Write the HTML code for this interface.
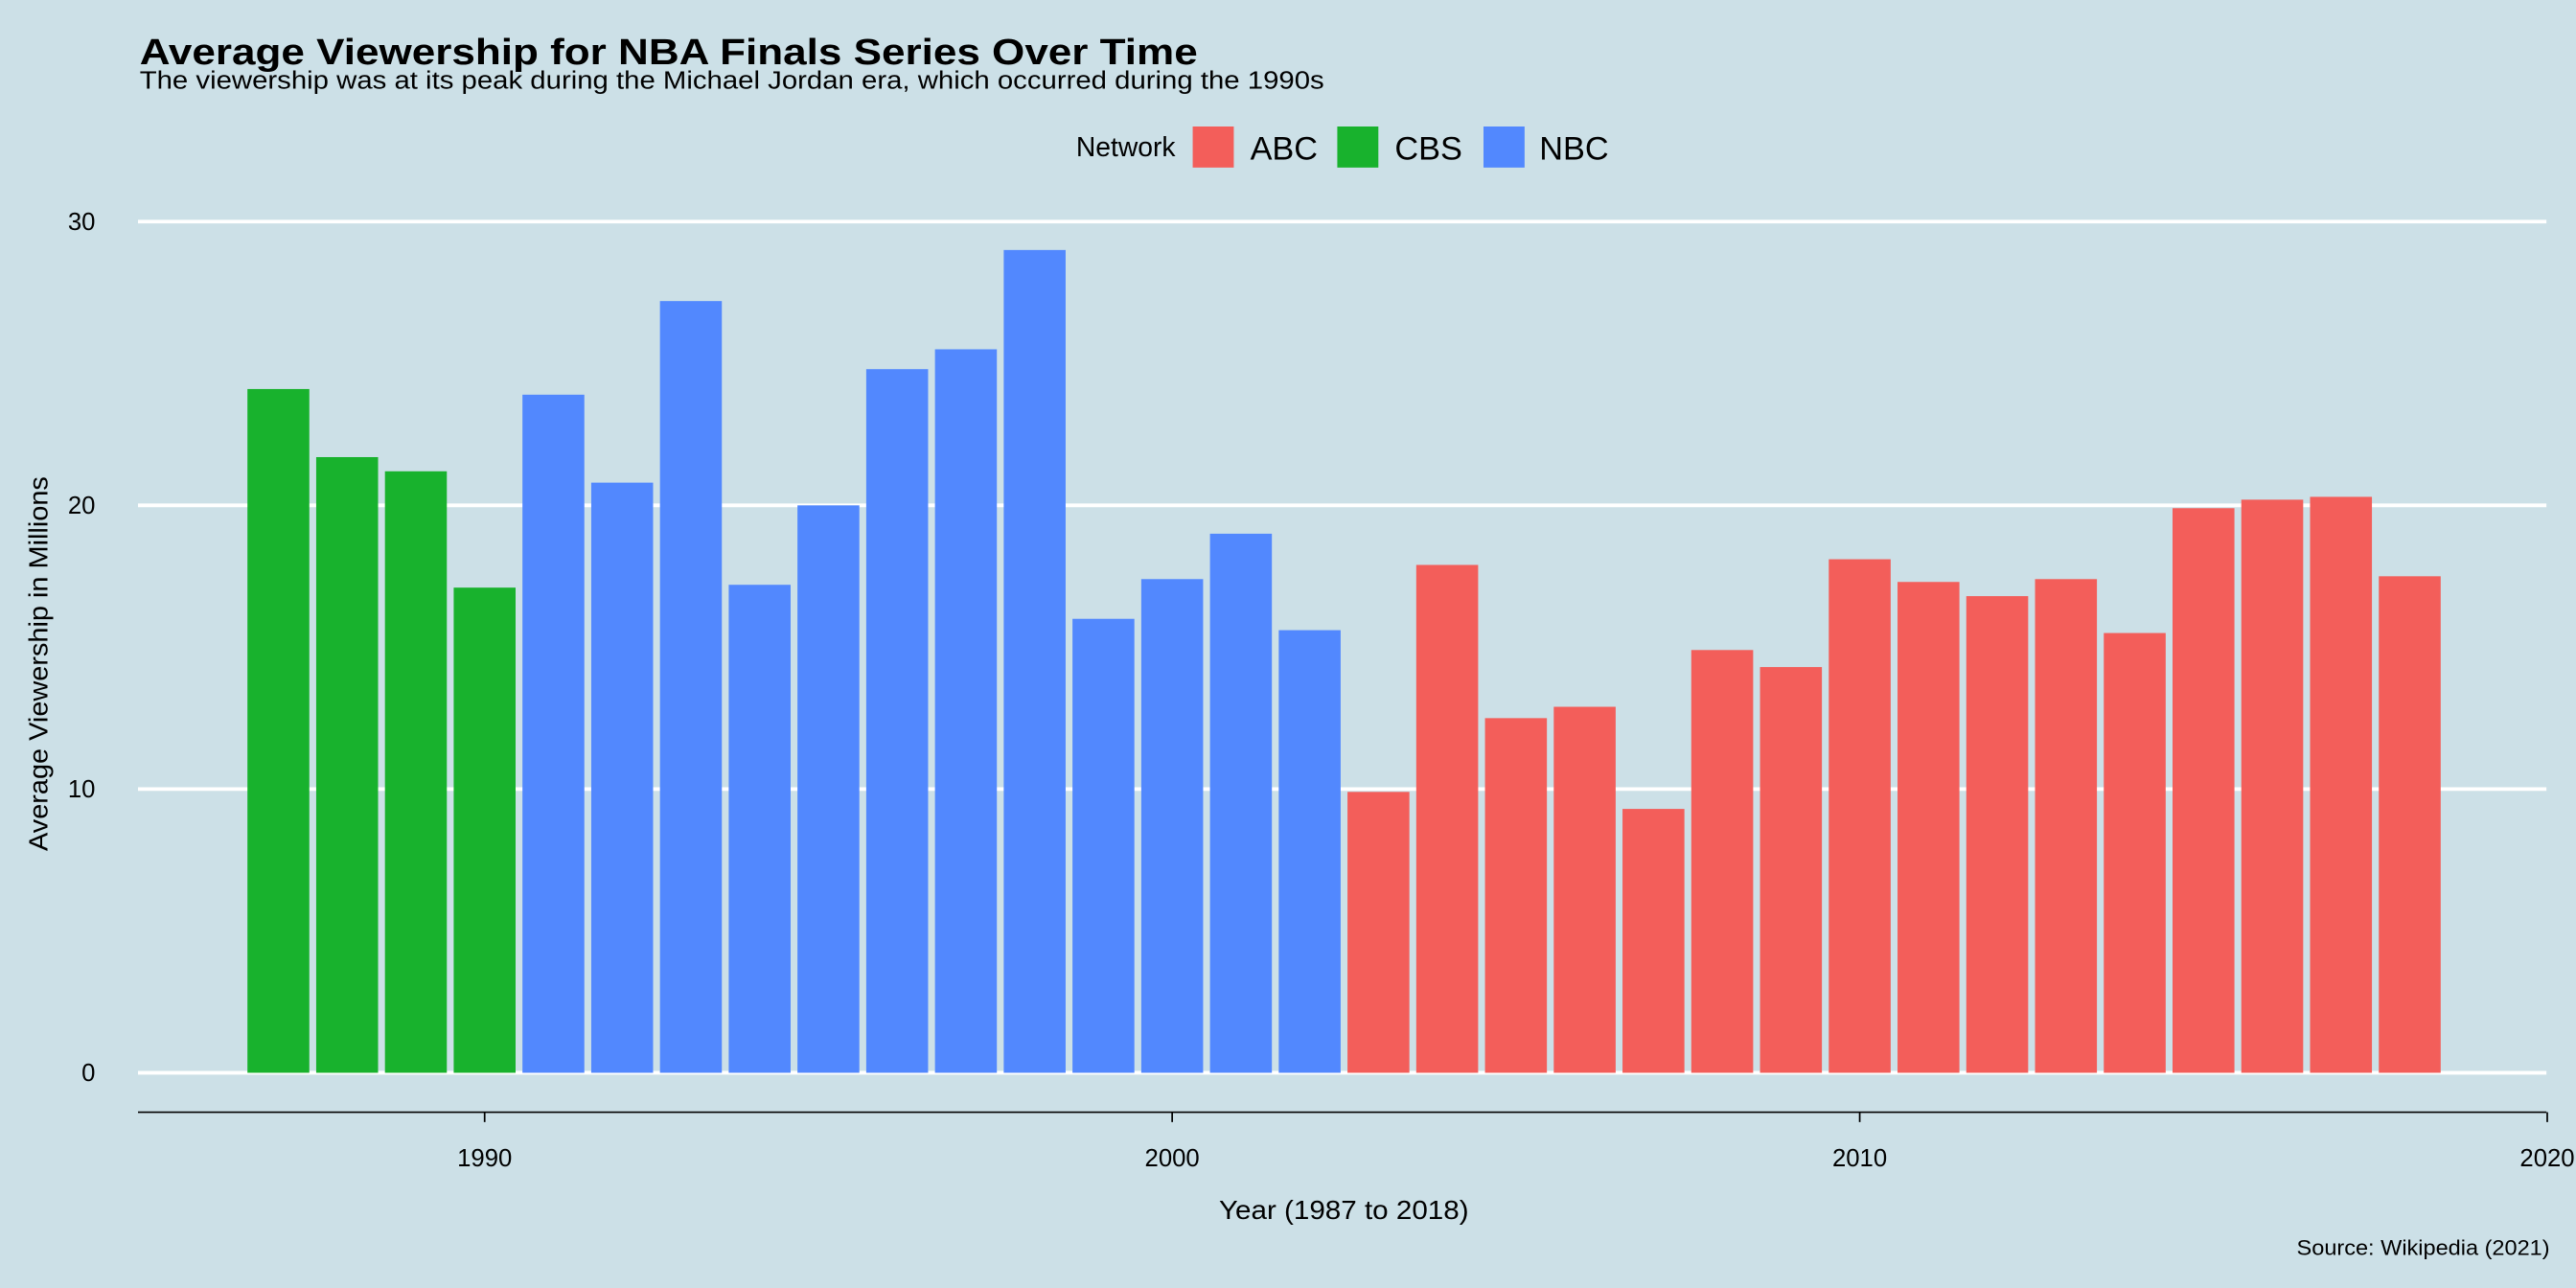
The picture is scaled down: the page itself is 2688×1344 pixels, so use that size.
<!DOCTYPE html>
<html><head><meta charset="utf-8"><style>
html,body{margin:0;padding:0;background:#cce0e7;}
svg{display:block;font-family:"Liberation Sans",Arial,sans-serif;}
</style></head><body>
<svg id="chart" width="2688" height="1344" viewBox="0 0 1568 784" xmlns="http://www.w3.org/2000/svg">
<rect x="0" y="0" width="1568" height="784" fill="#cce0e7"/>
<text x="85" y="39" font-size="22" font-weight="bold" fill="#000" textLength="644" lengthAdjust="spacingAndGlyphs">Average Viewership for NBA Finals Series Over Time</text>
<text x="85" y="54" font-size="15" fill="#000" textLength="721" lengthAdjust="spacingAndGlyphs">The viewership was at its peak during the Michael Jordan era, which occurred during the 1990s</text>
<g>
<text x="655" y="95" font-size="16.5">Network</text>
<rect x="726" y="77" width="25" height="25" fill="#f35e5a"/>
<text x="761" y="97" font-size="20">ABC</text>
<rect x="814" y="77" width="25" height="25" fill="#18b22d"/>
<text x="849" y="97" font-size="20">CBS</text>
<rect x="903" y="77" width="25" height="25" fill="#5288fe"/>
<text x="937" y="97" font-size="20">NBC</text>
</g>
<g id="grid"></g>
<g id="bars"></g>
<g id="axes"></g>
<text transform="translate(29,404) rotate(-90)" text-anchor="middle" font-size="16" textLength="228" lengthAdjust="spacingAndGlyphs">Average Viewership in Millions</text>
<text x="818" y="742" text-anchor="middle" font-size="16" textLength="152" lengthAdjust="spacingAndGlyphs">Year (1987 to 2018)</text>
<text x="1552" y="764" text-anchor="end" font-size="13" textLength="154" lengthAdjust="spacingAndGlyphs">Source: Wikipedia (2021)</text>
</svg>
<script>
const years = [1987,1988,1989,1990,1991,1992,1993,1994,1995,1996,1997,1998,1999,2000,2001,2002,2003,2004,2005,2006,2007,2008,2009,2010,2011,2012,2013,2014,2015,2016,2017,2018];
const viewers = [24.1,21.7,21.2,17.1,23.9,20.8,27.2,17.2,20.0,24.8,25.5,29.0,16.0,17.4,19.0,15.6,9.9,17.9,12.5,12.9,9.3,14.9,14.3,18.1,17.3,16.8,17.4,15.5,19.9,20.2,20.3,17.5];
const networks = ["CBS","CBS","CBS","CBS","NBC","NBC","NBC","NBC","NBC","NBC","NBC","NBC","NBC","NBC","NBC","NBC","ABC","ABC","ABC","ABC","ABC","ABC","ABC","ABC","ABC","ABC","ABC","ABC","ABC","ABC","ABC","ABC"];
const yTicks = [0,10,20,30];
const xTicks = [1990,2000,2010,2020];
const colors = {ABC:"#f35e5a",CBS:"#18b22d",NBC:"#5288fe"};
const NS="http://www.w3.org/2000/svg";
function xs(v){return 295+(v-1990)*41.85;}
function ys(v){return 653-v*17.27;}
function mk(tag,attrs,parent){const e=document.createElementNS(NS,tag);for(const k in attrs)e.setAttribute(k,attrs[k]);parent.appendChild(e);return e;}
const grid=document.getElementById('grid'),bars=document.getElementById('bars'),axes=document.getElementById('axes');
yTicks.forEach(t=>{
 const l=mk('line',{x1:84,x2:1550,y1:ys(t),y2:ys(t),stroke:'#fff','stroke-width':2.2},grid);
 
 
 const tx=mk('text',{x:58,y:ys(t)+5,'text-anchor':'end','font-size':15},axes);
 tx.textContent=t;
 
 
});
const bw=41.85*0.9;
years.forEach((yr,i)=>{
 const r=mk('rect',{x:xs(yr)-bw/2,y:ys(viewers[i]),width:bw,height:ys(0)-ys(viewers[i]),fill:colors[networks[i]]},bars);
 
 
});
const ax=mk('line',{x1:84,x2:1550,y1:677,y2:677,stroke:'#000','stroke-width':1},axes);


xTicks.forEach(t=>{
 const tk=mk('line',{x1:xs(t),x2:xs(t),y1:677,y2:683,stroke:'#000','stroke-width':1},axes);
 
 
 const tx=mk('text',{x:xs(t),y:710,'text-anchor':'middle','font-size':15},axes);
 tx.textContent=t;
 
 
});
</script>
</body></html>
